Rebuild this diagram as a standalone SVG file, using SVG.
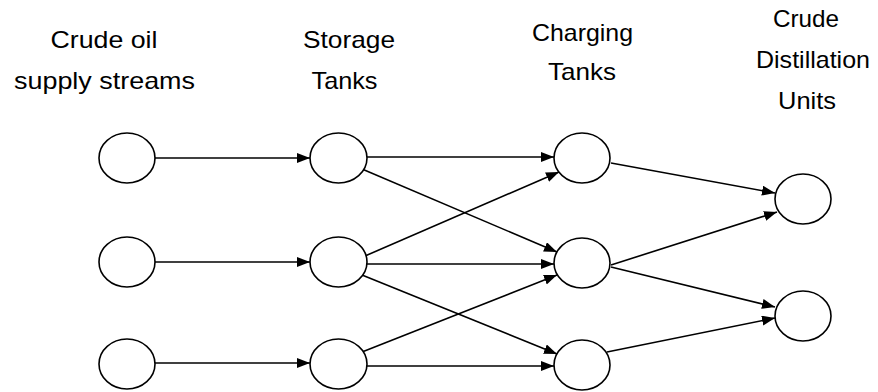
<svg xmlns="http://www.w3.org/2000/svg" width="878" height="392" viewBox="0 0 878 392">
<style>
.n{fill:#fff;stroke:#000;stroke-width:1.6}
.c line{stroke:#000;stroke-width:1.6;marker-end:url(#ah)}
text{font-family:"Liberation Sans",Arial,sans-serif;font-size:24px;fill:#000;text-anchor:middle}
</style>
<defs>
<marker id="ah" markerUnits="userSpaceOnUse" markerWidth="14" markerHeight="12" refX="13" refY="5" orient="auto"><path d="M0,0 L13,5 L0,10 z" fill="#000"/></marker>
</defs>
<g id="labels">
<text x="104" y="48" textLength="107" lengthAdjust="spacingAndGlyphs">Crude oil</text>
<text x="104.5" y="89" textLength="181" lengthAdjust="spacingAndGlyphs">supply streams</text>
<text x="349" y="48" textLength="92" lengthAdjust="spacingAndGlyphs">Storage</text>
<text x="344.5" y="89" textLength="66" lengthAdjust="spacingAndGlyphs">Tanks</text>
<text x="582.5" y="41" textLength="101" lengthAdjust="spacingAndGlyphs">Charging</text>
<text x="582" y="80" textLength="68" lengthAdjust="spacingAndGlyphs">Tanks</text>
<text x="806" y="27" textLength="66" lengthAdjust="spacingAndGlyphs">Crude</text>
<text x="813" y="68" textLength="114" lengthAdjust="spacingAndGlyphs">Distillation</text>
<text x="807" y="109" textLength="58" lengthAdjust="spacingAndGlyphs">Units</text>
</g>
<g class="c" id="connectors">
<line x1="155" y1="158" x2="310" y2="158"/>
<line x1="155" y1="262" x2="310" y2="262"/>
<line x1="155" y1="363" x2="310" y2="363"/>
<line x1="367" y1="157" x2="554" y2="157"/>
<line x1="362" y1="169" x2="557" y2="252"/>
<line x1="365" y1="256" x2="559" y2="172"/>
<line x1="367" y1="264" x2="554" y2="264"/>
<line x1="362" y1="275" x2="557" y2="354"/>
<line x1="362" y1="352" x2="557" y2="275"/>
<line x1="367" y1="366" x2="554" y2="366"/>
<line x1="611" y1="163" x2="775" y2="193"/>
<line x1="611" y1="265" x2="777" y2="212"/>
<line x1="611" y1="267" x2="775" y2="307"/>
<line x1="607" y1="352" x2="775" y2="318"/>
</g>
<g id="s1"><ellipse class="n" cx="127" cy="158" rx="28" ry="25"/></g>
<g id="s2"><ellipse class="n" cx="127" cy="262" rx="28" ry="25"/></g>
<g id="s3"><ellipse class="n" cx="127" cy="364" rx="28" ry="25"/></g>
<g id="st1"><ellipse class="n" cx="338.5" cy="158" rx="28.5" ry="25"/></g>
<g id="st2"><ellipse class="n" cx="338.5" cy="262" rx="28.5" ry="25"/></g>
<g id="st3"><ellipse class="n" cx="338.5" cy="364" rx="28.5" ry="25"/></g>
<g id="ct1"><ellipse class="n" cx="582" cy="158" rx="28" ry="25"/></g>
<g id="ct2"><ellipse class="n" cx="582" cy="263" rx="28" ry="25"/></g>
<g id="ct3"><ellipse class="n" cx="582" cy="365" rx="28" ry="25"/></g>
<g id="cdu1"><ellipse class="n" cx="803" cy="199" rx="28" ry="25"/></g>
<g id="cdu2"><ellipse class="n" cx="803" cy="316" rx="28" ry="25"/></g>
</svg>
